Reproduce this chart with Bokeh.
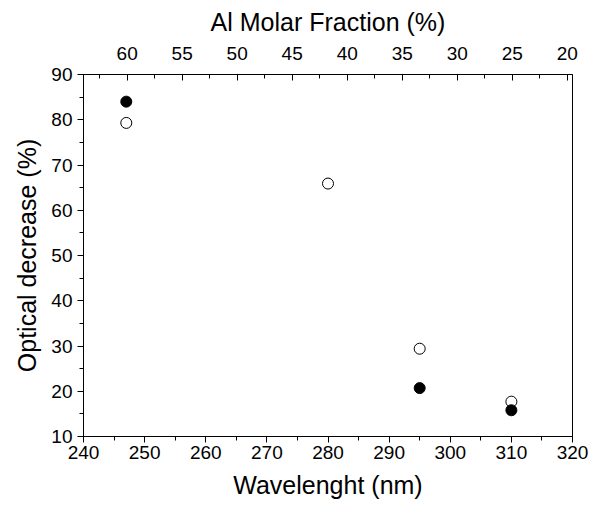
from bokeh.plotting import figure
from bokeh.models import LinearAxis, Range1d, SingleIntervalTicker
from bokeh.embed import file_html
from bokeh.resources import INLINE

# Measured optical decrease versus emission wavelength
wavelength_filled = [247, 295, 310]
decrease_filled = [84.0, 20.7, 15.8]

wavelength_open = [247, 280, 295, 310]
decrease_open = [79.3, 65.9, 29.4, 17.7]

# Al molar fraction scale shown on the top axis (spans the wavelength window)
al_fraction_left = 63.97
al_fraction_right = 19.52

FONT = "Liberation Sans"

p = figure(
    width=590, height=510,
    x_range=Range1d(240, 320), y_range=Range1d(10, 90),
    output_backend="svg", toolbar_location=None,
    x_axis_location=None, y_axis_location=None,
    min_border_left=83, min_border_right=18,
    min_border_top=74, min_border_bottom=74,
)
p.xgrid.visible = False
p.ygrid.visible = False
p.outline_line_color = "black"
p.outline_line_width = 1
p.background_fill_color = "white"
p.border_fill_color = "white"


def style_axis(ax, out=True):
    ax.axis_line_color = "black"
    ax.axis_line_width = 1
    ax.major_tick_line_color = "black"
    ax.minor_tick_line_color = "black"
    if out:
        ax.major_tick_out, ax.major_tick_in = 6, 0
        ax.minor_tick_out, ax.minor_tick_in = 4, 0
    else:
        ax.major_tick_out, ax.major_tick_in = 0, 6
        ax.minor_tick_out, ax.minor_tick_in = 0, 4
    ax.major_label_text_font = FONT
    ax.major_label_text_font_size = "19px"
    ax.major_label_text_color = "black"
    ax.axis_label_text_font = FONT
    ax.axis_label_text_font_size = "25px"
    ax.axis_label_text_font_style = "normal"
    ax.axis_label_text_color = "black"


bottom = LinearAxis(axis_label="Wavelenght (nm)",
                    ticker=SingleIntervalTicker(interval=10, num_minor_ticks=2))
style_axis(bottom)
bottom.major_label_standoff = 3
bottom.axis_label_standoff = 9
p.add_layout(bottom, "below")

left = LinearAxis(axis_label="Optical decrease (%)",
                  ticker=SingleIntervalTicker(interval=10, num_minor_ticks=2))
style_axis(left)
left.major_label_standoff = 5
left.axis_label_standoff = 7
p.add_layout(left, "left")

p.extra_x_ranges = {"al": Range1d(al_fraction_left, al_fraction_right)}
top = LinearAxis(x_range_name="al", axis_label="Al Molar Fraction (%)",
                 ticker=SingleIntervalTicker(interval=5, num_minor_ticks=2))
style_axis(top, out=False)
top.major_label_standoff = 15
top.axis_label_standoff = 8
p.add_layout(top, "above")

p.scatter(wavelength_open, decrease_open, marker="circle", size=11,
          fill_color="white", line_color="black", line_width=1)
p.scatter(wavelength_filled, decrease_filled, marker="circle", size=11,
          fill_color="black", line_color="black", line_width=1)

open("out.html", "w").write(file_html(p, INLINE))
